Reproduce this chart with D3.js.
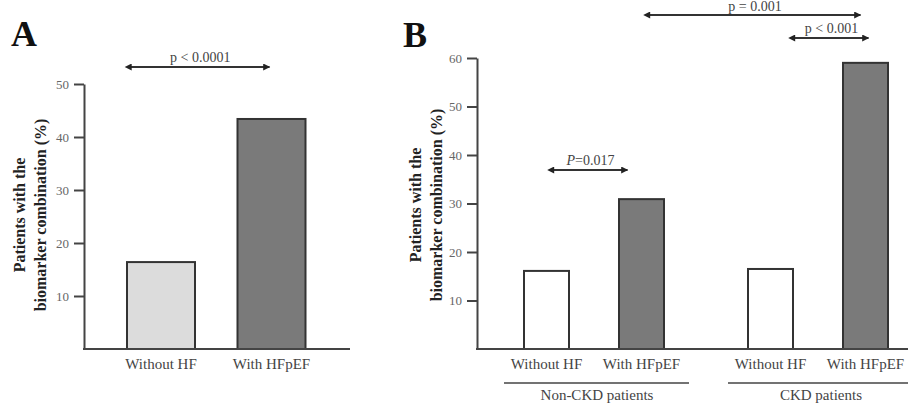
<!DOCTYPE html>
<html>
<head>
<meta charset="utf-8">
<script src="https://cdn.jsdelivr.net/npm/d3@7"></script>
<style>
  body { margin: 0; background: #fff; }
  svg, svg text { font-family: "Liberation Serif", "DejaVu Serif", serif !important; }
</style>
</head>
<body>
<div id="chart"></div>
<script>
// panel A data
const catsA = ["Without HF", "With HFpEF"];
const valuesA = [16.4, 43.4];
const ticksA = [10, 20, 30, 40, 50];

// panel B data
const groupsB = ["Non-CKD patients", "CKD patients"];
const subCatsB = ["Without HF", "With HFpEF"];
const valuesB = [[16.1, 30.9], [16.5, 59.0]];
const ticksB = [10, 20, 30, 40, 50, 60];

const yLabel = ["Patients with the", "biomarker combination (%)"];

let svg = d3.select("#chart").append("svg")
    .attr("width", 908)
    .attr("height", 405);

// arrow heads
let defs = svg.append("defs");
["start", "end"].forEach(function(k) {
    defs.append("marker")
        .attr("id", "arr-" + k)
        .attr("viewBox", "0 0 10 10")
        .attr("refX", k === "end" ? 9 : 1)
        .attr("refY", 5)
        .attr("markerWidth", 9)
        .attr("markerHeight", 7)
        .attr("markerUnits", "userSpaceOnUse")
        .attr("orient", "auto-start-reverse")
        .append("path")
        .attr("d", "M0,0 L10,5 L0,10 z")
        .attr("fill", "#222");
});

function sigArrow(x1, x2, y, label, italicP, ty) {
    svg.append("line")
        .attr("x1", x1).attr("x2", x2)
        .attr("y1", y).attr("y2", y)
        .attr("stroke", "#333")
        .attr("stroke-width", 2)
        .attr("marker-start", "url(#arr-start)")
        .attr("marker-end", "url(#arr-end)");
    let t = svg.append("text")
        .attr("x", (x1 + x2) / 2)
        .attr("y", ty !== undefined ? ty : y - 5)
        .attr("text-anchor", "middle")
        .style("font-size", "14px")
        .attr("fill", "#444");
    if (italicP) {
        t.append("tspan").style("font-style", "italic").text("P");
        t.append("tspan").text(label);
    } else {
        t.text(label);
    }
}

function yAxis(scale, x, ticks) {
    let g = svg.append("g")
        .attr("transform", `translate(${x},0)`)
        .call(d3.axisLeft(scale).tickValues(ticks).tickSize(10).tickSizeOuter(0).tickPadding(5));
    g.attr("font-family", null);
    g.select(".domain").attr("stroke", "#444").attr("stroke-width", 2);
    g.selectAll(".tick line").attr("stroke", "#444").attr("stroke-width", 2);
    g.selectAll(".tick text")
        .attr("fill", "#666")
        .style("font-size", "13px");
}

function yTitle(cx, cy) {
    let t = svg.append("text")
        .attr("transform", `translate(${cx},${cy}) rotate(-90)`)
        .attr("text-anchor", "middle")
        .style("font-size", "16px")
        .style("font-weight", "bold")
        .attr("fill", "#222");
    t.append("tspan").attr("x", 0).attr("dy", 0).text(yLabel[0]);
    t.append("tspan").attr("x", 0).attr("dy", 21).text(yLabel[1]);
}

// ---- panel A ----
let yA = d3.scaleLinear().domain([0, 50]).range([349, 84]);
let xA = d3.scalePoint().domain(catsA).range([161, 271.5]);
let bwA = 68;

svg.append("text").attr("x", 11).attr("y", 46)
    .style("font-size", "36px").style("font-weight", "bold").attr("fill", "#111").text("A");

yAxis(yA, 84, ticksA);
yTitle(25, 215);

svg.append("g").selectAll("rect")
    .data(catsA)
    .enter()
    .append("rect")
    .attr("x", (d) => xA(d) - bwA / 2)
    .attr("y", (d, i) => yA(valuesA[i]))
    .attr("width", bwA)
    .attr("height", (d, i) => yA(0) - yA(valuesA[i]))
    .attr("fill", (d, i) => i === 0 ? "#dcdcdc" : "#7a7a7a")
    .attr("stroke", "#333")
    .attr("stroke-width", 2);

svg.append("line").attr("x1", 83).attr("x2", 350)
    .attr("y1", yA(0)).attr("y2", yA(0))
    .attr("stroke", "#444").attr("stroke-width", 2);

svg.append("g").selectAll("text")
    .data(catsA)
    .enter()
    .append("text")
    .attr("x", (d) => xA(d))
    .attr("y", 369)
    .attr("text-anchor", "middle")
    .style("font-size", "15px")
    .attr("fill", "#444")
    .text((d) => d);

sigArrow(xA(catsA[0]) - 30, xA(catsA[1]) - 2, 67, "p < 0.0001", false);

// ---- panel B ----
let yB = d3.scaleLinear().domain([0, 60]).range([349, 58]);
let xGroup = d3.scalePoint().domain(groupsB).range([594, 818]);
let xSub = d3.scalePoint().domain(subCatsB).range([-47.5, 47.5]);
let bwB = 45;

svg.append("text").attr("x", 403).attr("y", 47)
    .style("font-size", "36px").style("font-weight", "bold").attr("fill", "#111").text("B");

yAxis(yB, 477, ticksB);
yTitle(421, 205);

let barData = [];
groupsB.forEach(function(g, gi) {
    subCatsB.forEach(function(s, si) {
        barData.push({group: g, sub: s, value: valuesB[gi][si]});
    });
});

svg.append("g").selectAll("rect")
    .data(barData)
    .enter()
    .append("rect")
    .attr("x", (d) => xGroup(d.group) + xSub(d.sub) - bwB / 2)
    .attr("y", (d) => yB(d.value))
    .attr("width", bwB)
    .attr("height", (d) => yB(0) - yB(d.value))
    .attr("fill", (d) => d.sub === subCatsB[0] ? "#ffffff" : "#7a7a7a")
    .attr("stroke", "#333")
    .attr("stroke-width", 2);

svg.append("line").attr("x1", 476).attr("x2", 908)
    .attr("y1", yB(0)).attr("y2", yB(0))
    .attr("stroke", "#444").attr("stroke-width", 2);

svg.append("g").selectAll("text")
    .data(barData)
    .enter()
    .append("text")
    .attr("x", (d) => xGroup(d.group) + xSub(d.sub))
    .attr("y", 369)
    .attr("text-anchor", "middle")
    .style("font-size", "15px")
    .attr("fill", "#444")
    .text((d) => d.sub);

// group underline + labels
groupsB.forEach(function(g) {
    let cx = xGroup(g);
    svg.append("line")
        .attr("x1", cx - 90).attr("x2", cx + 95)
        .attr("y1", 383).attr("y2", 383)
        .attr("stroke", "#444").attr("stroke-width", 1.5);
    svg.append("text")
        .attr("x", cx + 3)
        .attr("y", 400)
        .attr("text-anchor", "middle")
        .style("font-size", "15px")
        .attr("fill", "#444")
        .text(g);
});

let bx = (gi, si) => xGroup(groupsB[gi]) + xSub(subCatsB[si]);
sigArrow(bx(0, 0) + 7, bx(0, 1) - 14, 170, "=0.017", true);
sigArrow(bx(0, 1) + 8, bx(1, 1) - 5, 15, "p = 0.001", false, 11);
sigArrow(bx(1, 0) + 24, bx(1, 1) + 3, 38, "p < 0.001", false);
</script>
</body>
</html>
